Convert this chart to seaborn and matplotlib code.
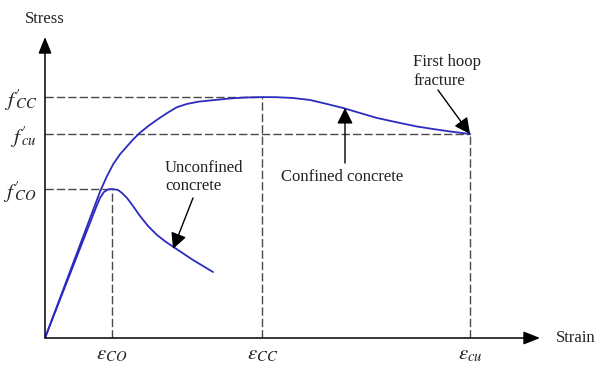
import matplotlib
matplotlib.use("Agg")
import matplotlib.pyplot as plt
import seaborn as sns
import pandas as pd

# Characteristic points (strain in 1e-3, stress in MPa)
eps_co, eps_cc, eps_cu = 2.0, 6.48, 12.69
f_co, f_cc, f_cu = 30.0, 48.5, 41.07

# Unconfined concrete stress-strain curve
unconf_strain = [0.0, 1.552, 1.642, 1.761, 1.881, 2.0, 2.179, 2.299, 2.448,
                 2.627, 2.836, 3.075, 3.343, 3.612, 3.881, 4.149, 4.418,
                 4.716, 5.015]
unconf_stress = [0.0, 26.78, 28.19, 29.40, 29.90, 30.0, 29.80, 29.19, 28.19,
                 26.58, 24.56, 22.55, 20.74, 19.33, 18.12, 16.91, 15.70,
                 14.50, 13.29]

# Confined concrete stress-strain curve
conf_strain = [0.0, 1.493, 1.642, 1.842, 2.039, 2.239, 2.439, 2.636, 2.836,
               3.084, 3.334, 3.633, 3.931, 4.230, 4.576, 5.075, 5.522, 5.970,
               6.48, 6.917, 7.403, 7.910, 8.418, 8.896, 9.403, 9.910, 10.597,
               11.104, 11.582, 12.090, 12.69]
conf_stress = [0.0, 26.78, 29.46, 32.48, 35.03, 36.99, 38.52, 40.01, 41.34,
               42.68, 43.89, 45.24, 46.45, 47.11, 47.58, 47.92, 48.22, 48.42,
               48.5, 48.48, 48.32, 47.92, 47.11, 46.31, 45.30, 44.30, 43.29,
               42.58, 42.08, 41.58, 41.07]

x_ticks = [eps_co, eps_cc, eps_cu]
x_tick_labels = [r"$\varepsilon_{CO}$", r"$\varepsilon_{CC}$", r"$\varepsilon_{cu}$"]
y_ticks = [f_co, f_cu, f_cc]
y_tick_labels = [r"$f'_{\!\!\!CO}$", r"$f'_{\!\!\!cu}$", r"$f'_{\!\!\!CC}$"]

sns.set_theme(style="white")
plt.rcParams["font.family"] = ["Liberation Serif", "DejaVu Serif"]
plt.rcParams["mathtext.fontset"] = "stix"

fig = plt.figure(figsize=(5.96, 3.67), dpi=100)
fig.patch.set_facecolor("white")
ax = fig.add_axes([45 / 596, 29 / 367, 495 / 596, 301 / 367])
ax.set_xlim(0, 14.776)
ax.set_ylim(0, 60.60)
for s in ax.spines.values():
    s.set_visible(False)

curve_color = "#2b2bbf"
dash_color = "#4a4a4a"
dash = (0, (6, 2.2))

# Reference dashed lines
for e, f in [(eps_co, f_co), (eps_cc, f_cc), (eps_cu, f_cu)]:
    ax.plot([0, e], [f, f], color=dash_color, lw=1.0, ls=dash)
    ax.plot([e, e], [0, f], color=dash_color, lw=1.0, ls=dash)

df_u = pd.DataFrame({"strain": unconf_strain, "stress": unconf_stress})
df_c = pd.DataFrame({"strain": conf_strain, "stress": conf_stress})
for df in (df_u, df_c):
    sns.lineplot(data=df, x="strain", y="stress", sort=False, ax=ax,
                 color=curve_color, lw=1.3, solid_joinstyle="round",
                 solid_capstyle="round")

# Axes with arrowheads
axis_arrow = dict(arrowstyle="-|>,head_length=0.5,head_width=0.2",
                  mutation_scale=20, lw=1.1, color="black",
                  shrinkA=0, shrinkB=0)
ax.annotate("", xy=(1, 0), xytext=(0, 0), xycoords="axes fraction",
            arrowprops=axis_arrow, annotation_clip=False)
ax.annotate("", xy=(0, 1), xytext=(0, 0), xycoords="axes fraction",
            arrowprops=axis_arrow, annotation_clip=False)

ax.set_xticks(x_ticks)
ax.set_xticklabels(x_tick_labels, fontsize=15)
ax.set_yticks(y_ticks)
ax.set_yticklabels(y_tick_labels, fontsize=15)
ax.tick_params(axis="both", direction="in", length=3.6, width=1.0,
               color="black", labelcolor="#222222")
ax.tick_params(axis="x", pad=5)
ax.tick_params(axis="y", pad=6)
ax.set_xlabel("")
ax.set_ylabel("")

ax.text(0, 64.2, "Stress", fontsize=12, ha="center", va="center", color="#222222")
ax.text(15.25, 0, "Strain", fontsize=12, ha="left", va="center", color="#222222")

note_arrow = dict(arrowstyle="-|>,head_length=0.4,head_width=0.2",
                  mutation_scale=24, lw=1.0, color="black",
                  shrinkA=0, shrinkB=0)
ax.text(3.58, 32.4, "Unconfined\nconcrete", fontsize=12, ha="left",
        va="center", color="#222222")
ax.annotate("", xy=(3.821, 17.92), xytext=(4.418, 28.19), arrowprops=note_arrow)

ax.text(8.88, 32.4, "Confined concrete", fontsize=12, ha="center",
        va="center", color="#222222")
ax.annotate("", xy=(8.955, 46.31), xytext=(8.955, 35.23), arrowprops=note_arrow)

ax.text(10.985, 53.66, "First hoop\nfracture", fontsize=12, ha="left",
        va="center", color="#222222")
ax.annotate("", xy=(12.687, 41.07), xytext=(11.73, 49.93), arrowprops=note_arrow)

fig.savefig("out.png", dpi=100, facecolor="white")
